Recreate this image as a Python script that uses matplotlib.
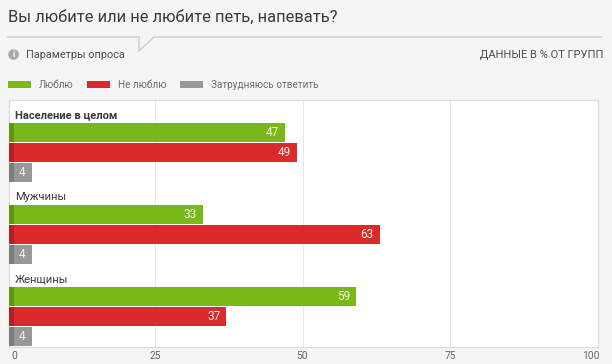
import matplotlib
matplotlib.use("Agg")
import matplotlib.pyplot as plt
from matplotlib.lines import Line2D
from matplotlib.patches import Rectangle, Circle

categories = ["Население в целом", "Мужчины", "Женщины"]
series_names = ["Люблю", "Не люблю", "Затрудняюсь ответить"]
love = [47, 33, 59]
dislike = [49, 63, 37]
unsure = [4, 4, 4]
xticks = [0, 25, 50, 75, 100]
title = "Вы любите или не любите петь, напевать?"
params_label = "Параметры опроса"
units_label = "ДАННЫЕ В % ОТ ГРУПП"

colors = ["#78b818", "#da2a2c", "#989898"]
darks = ["#5f9514", "#b02024", "#7d7d7d"]
BG = "#f5f5f5"
W, H = 612, 364
plt.rcParams['font.family'] = ['Roboto', 'DejaVu Sans']

fig = plt.figure(figsize=(W/100, H/100), dpi=100, facecolor=BG)
def fx(x): return x / W
def fy(y): return 1 - y / H

L, R, T, B = 8.5, 598, 100, 346.5
X0 = 7.9
scale = (598 - X0) / 100
ax = fig.add_axes([fx(L), fy(B), fx(R - L), (B - T) / H])
ax.set_facecolor("white")
ax.set_xlim((L - X0) / scale, 100)
ax.set_ylim(B, T)   # y axis in pixel-height units, downward

group_tops = [123, 205, 287]
row = 20
bar_h = 19.2
for gi, cat in enumerate(categories):
    top = group_tops[gi]
    for si, vals in enumerate([love, dislike, unsure]):
        yc = top + si * row + bar_h / 2
        v = vals[gi]
        ax.barh(yc, v, height=bar_h, color=colors[si], linewidth=0, zorder=3)
        ax.barh(yc, 1.05, height=bar_h, color=darks[si], linewidth=0, zorder=4)
        ax.text(v - 1.0, yc, str(v), color="#eef3e6", fontsize=8.5, ha="right", va="center", zorder=5)
    ax.text(1.25, top - 8, cat, fontsize=8, color="#3a3a3a", va="center", ha="left",
            fontweight="bold" if gi == 0 else "normal", zorder=5)

ax.set_xticks(xticks[1:-1])
ax.grid(axis="x", color="#e8e8e8", linewidth=0.7, zorder=0)
ax.set_axisbelow(True)
ax.set_yticks([])
ax.tick_params(axis="x", length=0, labelbottom=False)
for s in ax.spines.values():
    s.set_color("#dcdcdc"); s.set_linewidth(0.9)

tick_y = 356
for t in xticks:
    px = X0 + t * scale
    if t == 0:
        fig.text(fx(11), fy(tick_y), str(t), ha="left", va="center", fontsize=7.4, color="#666666")
    elif t == 100:
        fig.text(fx(600), fy(tick_y), str(t), ha="right", va="center", fontsize=7.4, color="#666666")
    else:
        fig.text(fx(px - 0.5), fy(tick_y), str(t), ha="center", va="center", fontsize=7.4, color="#666666")

fig.text(fx(8), fy(17), title, fontsize=11.9, color="#3a3a3a", ha="left", va="center")
fig.add_artist(Line2D([fx(8), fx(139), fx(139), fx(154), fx(602)],
                      [fy(37), fy(37), fy(51), fy(37), fy(37)],
                      color="#d0d0d0", linewidth=1.1, transform=fig.transFigure))
fig.text(fx(26), fy(54.5), params_label, fontsize=7.8, color="#4c4c4c", ha="left", va="center")
fig.text(fx(603), fy(55), units_label, fontsize=8, color="#4c4c4c", ha="right", va="center")

# info icon
ic = fig.add_axes([fx(8), fy(60), 11 / W, 11 / H]); ic.axis("off")
ic.set_xlim(0, 1); ic.set_ylim(0, 1)
ic.add_patch(Circle((0.5, 0.5), 0.48, color="#a8a8a8", lw=0))
ic.text(0.5, 0.47, "i", color="white", fontsize=6.5, ha="center", va="center", fontweight="bold")

# legend
swatches = [8, 87, 180]
labels_x = [39, 118, 211]
for name, c, sx, lx in zip(series_names, colors, swatches, labels_x):
    fig.add_artist(Rectangle((fx(sx), fy(88)), 23 / W, 7 / H, color=c, lw=0, transform=fig.transFigure))
    fig.text(fx(lx), fy(84.5), name, fontsize=7.2, color="#6e6e6e", ha="left", va="center")

fig.savefig("out.png", dpi=100, facecolor=BG)
